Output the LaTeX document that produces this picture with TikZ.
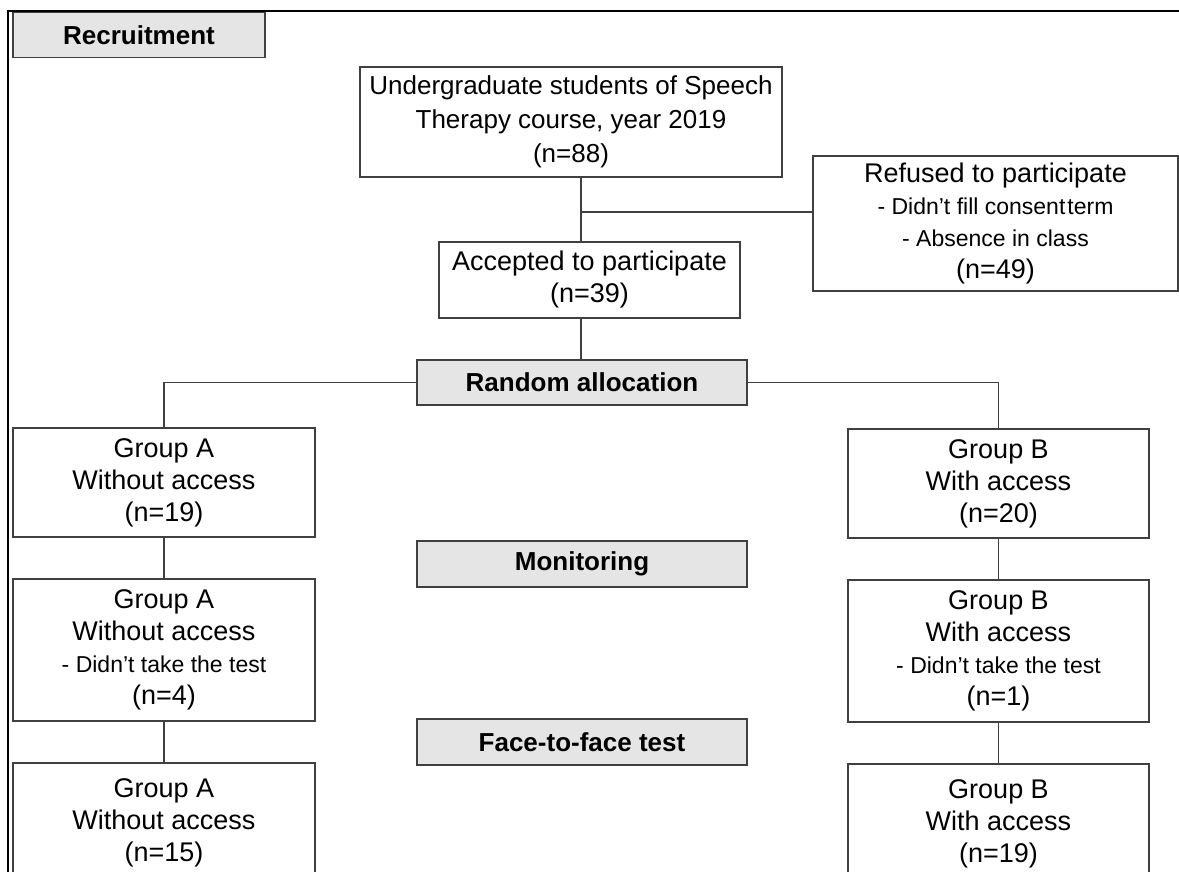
\documentclass[tikz,border=0pt]{standalone}
\usepackage{fontspec}
\setmainfont{Liberation Sans}
\usetikzlibrary{positioning}

\begin{document}
\begin{tikzpicture}[x=1pt, y=-1pt,
  box/.style={draw=black!75, line width=1.2pt, fill=white, align=center, inner sep=0pt, font=\fontsize{27}{32}\selectfont},
  head/.style={box, fill=black!10, minimum width=330pt, minimum height=45pt, font=\fontsize{26}{32}\selectfont\bfseries},
  grp/.style={box, minimum width=302pt},
  link/.style={draw=black!75, line width=1.2pt}]
\useasboundingbox (0,0) rectangle (1179,872);
\clip (0,0) rectangle (1179,872);
\draw[line width=2pt] (8,11) rectangle (1200,900);
% recruitment
\node[head, minimum width=252pt] (recr) at (139,35) {Recruitment};
\node[box, minimum width=422pt, minimum height=110pt, font=\fontsize{26}{34}\selectfont] (under) at (571,122) {Undergraduate students of Speech\\Therapy course, year 2019\\(n=88)};
\node[box, minimum width=365pt, minimum height=135pt] (refused) at (995.5,223.5) {Refused to participate\\{\fontsize{23}{31}\selectfont - Didn't fill consent\hspace{2pt}term}\\{\fontsize{23}{31}\selectfont - Absence in class}\\(n=49)};
\node[box, minimum width=301pt, minimum height=76pt] (acc) at (589.5,280) {Accepted to participate\\(n=39)};
% phases
\node[head] (rand) at (582,382.5) {Random allocation};
\node[head, minimum height=46pt] (monit) at (582,564) {Monitoring};
\node[head, minimum height=46pt] (face) at (582,742) {Face-to-face test};
% groups
\node[grp, minimum height=109pt] (ga1) at (164,482.5) {Group A\\Without access\\(n=19)};
\node[grp, minimum height=142pt] (ga2) at (164,650) {Group A\\Without access\\{\fontsize{23}{32}\selectfont - Didn't take the test}\\(n=4)};
\node[grp, minimum height=120pt] (ga3) at (164,823) {Group A\\Without access\\(n=15)};
\node[grp, minimum width=301pt, minimum height=109pt] (gb1) at (998.5,483.5) {Group B\\With access\\(n=20)};
\node[grp, minimum width=301pt, minimum height=142pt] (gb2) at (998.5,651) {Group B\\With access\\{\fontsize{23}{32}\selectfont - Didn't take the test}\\(n=1)};
\node[grp, minimum width=301pt, minimum height=120pt] (gb3) at (998.5,824) {Group B\\With access\\(n=19)};
% connectors
\coordinate (spine) at (581,0);
\coordinate (split) at (581,212);
\draw[link] (under.south -| spine) -- (acc.north -| spine);
\draw[link] (split) -- (split -| refused.west);
\draw[link] (acc.south -| spine) -- (rand.north -| spine);
\draw[link] (rand.west) -| (ga1.north);
\draw[link] (rand.east) -| (gb1.north);
\draw[link] (ga1.south) -- (ga2.north);
\draw[link] (ga2.south) -- (ga3.north);
\draw[link] (gb1.south) -- (gb2.north);
\draw[link] (gb2.south) -- (gb3.north);
\end{tikzpicture}
\end{document}
